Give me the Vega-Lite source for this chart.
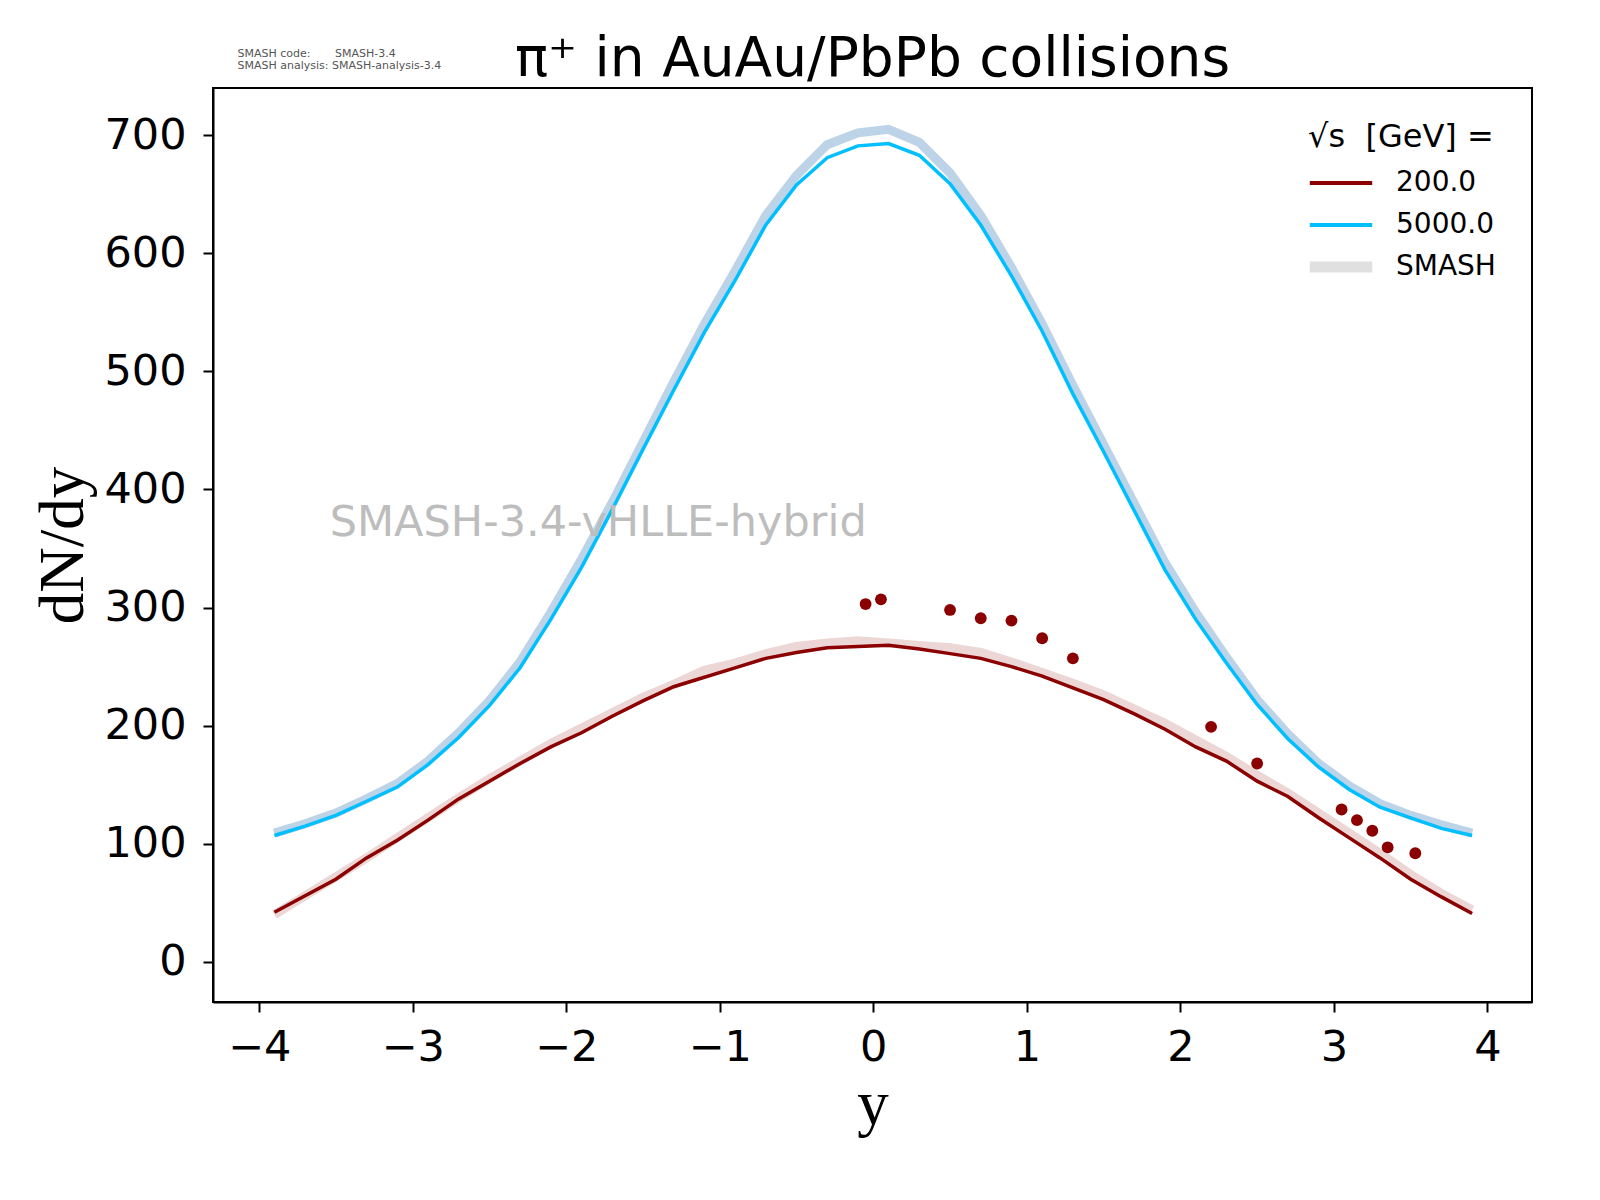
{
  "$schema": "https://vega.github.io/schema/vega-lite/v6.json",
  "autosize": "none",
  "width": 1319,
  "height": 914,
  "padding": {"left": 213, "top": 88, "right": 68, "bottom": 198},
  "background": "white",
  "title": {"text": "π⁺ in AuAu/PbPb collisions", "fontSize": 55, "font": "DejaVu Sans", "fontWeight": "normal", "color": "black", "anchor": "middle", "offset": -40},
  "config": {
    "view": {"stroke": "black", "strokeWidth": 2},
    "axis": {"grid": false, "domainColor": "black", "domainWidth": 2, "tickColor": "black", "tickWidth": 2, "tickSize": 10, "labelFont": "DejaVu Sans", "labelFontSize": 43, "labelColor": "black", "labelPadding": 14, "titleFont": "Liberation Serif", "titleFontWeight": "normal", "titleFontSize": 63, "titleColor": "black"}
  },
  "datasets": {
    "lines": [
      {"y": -3.9, "dndy": 42, "series": "200.0"}, {"y": -3.7, "dndy": 56, "series": "200.0"}, {"y": -3.5, "dndy": 70, "series": "200.0"}, {"y": -3.3, "dndy": 88, "series": "200.0"}, {"y": -3.1, "dndy": 103, "series": "200.0"}, {"y": -2.9, "dndy": 120, "series": "200.0"}, {"y": -2.7, "dndy": 138, "series": "200.0"}, {"y": -2.5, "dndy": 153, "series": "200.0"}, {"y": -2.3, "dndy": 168, "series": "200.0"}, {"y": -2.1, "dndy": 182, "series": "200.0"}, {"y": -1.9, "dndy": 194, "series": "200.0"}, {"y": -1.7, "dndy": 208, "series": "200.0"}, {"y": -1.5, "dndy": 221, "series": "200.0"}, {"y": -1.3, "dndy": 233, "series": "200.0"}, {"y": -1.1, "dndy": 241, "series": "200.0"}, {"y": -0.9, "dndy": 249, "series": "200.0"}, {"y": -0.7, "dndy": 257, "series": "200.0"}, {"y": -0.5, "dndy": 262, "series": "200.0"}, {"y": -0.3, "dndy": 266, "series": "200.0"}, {"y": -0.1, "dndy": 267, "series": "200.0"}, {"y": 0.1, "dndy": 268, "series": "200.0"}, {"y": 0.3, "dndy": 265, "series": "200.0"}, {"y": 0.5, "dndy": 261, "series": "200.0"}, {"y": 0.7, "dndy": 257, "series": "200.0"}, {"y": 0.9, "dndy": 250, "series": "200.0"}, {"y": 1.1, "dndy": 242, "series": "200.0"}, {"y": 1.3, "dndy": 232, "series": "200.0"}, {"y": 1.5, "dndy": 222, "series": "200.0"}, {"y": 1.7, "dndy": 210, "series": "200.0"}, {"y": 1.9, "dndy": 197, "series": "200.0"}, {"y": 2.1, "dndy": 182, "series": "200.0"}, {"y": 2.3, "dndy": 170, "series": "200.0"}, {"y": 2.5, "dndy": 153, "series": "200.0"}, {"y": 2.7, "dndy": 140, "series": "200.0"}, {"y": 2.9, "dndy": 122, "series": "200.0"}, {"y": 3.1, "dndy": 105, "series": "200.0"}, {"y": 3.3, "dndy": 88, "series": "200.0"}, {"y": 3.5, "dndy": 70, "series": "200.0"}, {"y": 3.7, "dndy": 55, "series": "200.0"}, {"y": 3.9, "dndy": 41, "series": "200.0"},
      {"y": -3.9, "dndy": 107, "series": "5000.0"}, {"y": -3.7, "dndy": 115, "series": "5000.0"}, {"y": -3.5, "dndy": 124, "series": "5000.0"}, {"y": -3.3, "dndy": 136, "series": "5000.0"}, {"y": -3.1, "dndy": 148, "series": "5000.0"}, {"y": -2.9, "dndy": 167, "series": "5000.0"}, {"y": -2.7, "dndy": 190, "series": "5000.0"}, {"y": -2.5, "dndy": 217, "series": "5000.0"}, {"y": -2.3, "dndy": 249, "series": "5000.0"}, {"y": -2.1, "dndy": 290, "series": "5000.0"}, {"y": -1.9, "dndy": 334, "series": "5000.0"}, {"y": -1.7, "dndy": 383, "series": "5000.0"}, {"y": -1.5, "dndy": 434, "series": "5000.0"}, {"y": -1.3, "dndy": 484, "series": "5000.0"}, {"y": -1.1, "dndy": 533, "series": "5000.0"}, {"y": -0.9, "dndy": 577, "series": "5000.0"}, {"y": -0.7, "dndy": 624, "series": "5000.0"}, {"y": -0.5, "dndy": 658, "series": "5000.0"}, {"y": -0.3, "dndy": 681, "series": "5000.0"}, {"y": -0.1, "dndy": 691, "series": "5000.0"}, {"y": 0.1, "dndy": 693, "series": "5000.0"}, {"y": 0.3, "dndy": 683, "series": "5000.0"}, {"y": 0.5, "dndy": 659, "series": "5000.0"}, {"y": 0.7, "dndy": 624, "series": "5000.0"}, {"y": 0.9, "dndy": 581, "series": "5000.0"}, {"y": 1.1, "dndy": 534, "series": "5000.0"}, {"y": 1.3, "dndy": 481, "series": "5000.0"}, {"y": 1.5, "dndy": 432, "series": "5000.0"}, {"y": 1.7, "dndy": 382, "series": "5000.0"}, {"y": 1.9, "dndy": 332, "series": "5000.0"}, {"y": 2.1, "dndy": 290, "series": "5000.0"}, {"y": 2.3, "dndy": 253, "series": "5000.0"}, {"y": 2.5, "dndy": 218, "series": "5000.0"}, {"y": 2.7, "dndy": 189, "series": "5000.0"}, {"y": 2.9, "dndy": 165, "series": "5000.0"}, {"y": 3.1, "dndy": 146, "series": "5000.0"}, {"y": 3.3, "dndy": 131, "series": "5000.0"}, {"y": 3.5, "dndy": 122, "series": "5000.0"}, {"y": 3.7, "dndy": 113, "series": "5000.0"}, {"y": 3.9, "dndy": 107, "series": "5000.0"}
    ],
    "bands": [
      {"y": -3.9, "dndy": 40, "band": "b200"}, {"y": -3.7, "dndy": 56, "band": "b200"}, {"y": -3.5, "dndy": 72, "band": "b200"}, {"y": -3.3, "dndy": 88, "band": "b200"}, {"y": -3.1, "dndy": 105, "band": "b200"}, {"y": -2.9, "dndy": 122, "band": "b200"}, {"y": -2.7, "dndy": 139, "band": "b200"}, {"y": -2.5, "dndy": 155, "band": "b200"}, {"y": -2.3, "dndy": 170, "band": "b200"}, {"y": -2.1, "dndy": 185, "band": "b200"}, {"y": -1.9, "dndy": 198, "band": "b200"}, {"y": -1.7, "dndy": 211, "band": "b200"}, {"y": -1.5, "dndy": 224, "band": "b200"}, {"y": -1.3, "dndy": 235, "band": "b200"}, {"y": -1.1, "dndy": 247, "band": "b200"}, {"y": -0.9, "dndy": 253, "band": "b200"}, {"y": -0.7, "dndy": 261, "band": "b200"}, {"y": -0.5, "dndy": 267, "band": "b200"}, {"y": -0.3, "dndy": 270, "band": "b200"}, {"y": -0.1, "dndy": 272, "band": "b200"}, {"y": 0.1, "dndy": 270, "band": "b200"}, {"y": 0.3, "dndy": 268, "band": "b200"}, {"y": 0.5, "dndy": 266, "band": "b200"}, {"y": 0.7, "dndy": 262, "band": "b200"}, {"y": 0.9, "dndy": 254, "band": "b200"}, {"y": 1.1, "dndy": 245, "band": "b200"}, {"y": 1.3, "dndy": 236, "band": "b200"}, {"y": 1.5, "dndy": 226, "band": "b200"}, {"y": 1.7, "dndy": 214, "band": "b200"}, {"y": 1.9, "dndy": 202, "band": "b200"}, {"y": 2.1, "dndy": 188, "band": "b200"}, {"y": 2.3, "dndy": 174, "band": "b200"}, {"y": 2.5, "dndy": 158, "band": "b200"}, {"y": 2.7, "dndy": 143, "band": "b200"}, {"y": 2.9, "dndy": 126, "band": "b200"}, {"y": 3.1, "dndy": 109, "band": "b200"}, {"y": 3.3, "dndy": 92, "band": "b200"}, {"y": 3.5, "dndy": 74, "band": "b200"}, {"y": 3.7, "dndy": 58, "band": "b200"}, {"y": 3.9, "dndy": 44, "band": "b200"},
      {"y": -3.9, "dndy": 109, "band": "b5000"}, {"y": -3.7, "dndy": 117, "band": "b5000"}, {"y": -3.5, "dndy": 126, "band": "b5000"}, {"y": -3.3, "dndy": 138, "band": "b5000"}, {"y": -3.1, "dndy": 151, "band": "b5000"}, {"y": -2.9, "dndy": 170, "band": "b5000"}, {"y": -2.7, "dndy": 194, "band": "b5000"}, {"y": -2.5, "dndy": 221, "band": "b5000"}, {"y": -2.3, "dndy": 254, "band": "b5000"}, {"y": -2.1, "dndy": 296, "band": "b5000"}, {"y": -1.9, "dndy": 341, "band": "b5000"}, {"y": -1.7, "dndy": 389, "band": "b5000"}, {"y": -1.5, "dndy": 440, "band": "b5000"}, {"y": -1.3, "dndy": 491, "band": "b5000"}, {"y": -1.1, "dndy": 540, "band": "b5000"}, {"y": -0.9, "dndy": 585, "band": "b5000"}, {"y": -0.7, "dndy": 632, "band": "b5000"}, {"y": -0.5, "dndy": 666, "band": "b5000"}, {"y": -0.3, "dndy": 692, "band": "b5000"}, {"y": -0.1, "dndy": 702, "band": "b5000"}, {"y": 0.1, "dndy": 705, "band": "b5000"}, {"y": 0.3, "dndy": 694, "band": "b5000"}, {"y": 0.5, "dndy": 668, "band": "b5000"}, {"y": 0.7, "dndy": 632, "band": "b5000"}, {"y": 0.9, "dndy": 588, "band": "b5000"}, {"y": 1.1, "dndy": 540, "band": "b5000"}, {"y": 1.3, "dndy": 488, "band": "b5000"}, {"y": 1.5, "dndy": 438, "band": "b5000"}, {"y": 1.7, "dndy": 388, "band": "b5000"}, {"y": 1.9, "dndy": 338, "band": "b5000"}, {"y": 2.1, "dndy": 296, "band": "b5000"}, {"y": 2.3, "dndy": 258, "band": "b5000"}, {"y": 2.5, "dndy": 222, "band": "b5000"}, {"y": 2.7, "dndy": 193, "band": "b5000"}, {"y": 2.9, "dndy": 168, "band": "b5000"}, {"y": 3.1, "dndy": 149, "band": "b5000"}, {"y": 3.3, "dndy": 134, "band": "b5000"}, {"y": 3.5, "dndy": 124, "band": "b5000"}, {"y": 3.7, "dndy": 116, "band": "b5000"}, {"y": 3.9, "dndy": 109, "band": "b5000"}
    ],
    "points": [
      {"y": -0.05, "dndy": 303}, {"y": 0.05, "dndy": 307}, {"y": 0.5, "dndy": 298}, {"y": 0.7, "dndy": 291}, {"y": 0.9, "dndy": 289}, {"y": 1.1, "dndy": 274}, {"y": 1.3, "dndy": 257}, {"y": 2.2, "dndy": 199}, {"y": 2.5, "dndy": 168}, {"y": 3.05, "dndy": 129}, {"y": 3.15, "dndy": 120}, {"y": 3.25, "dndy": 111}, {"y": 3.35, "dndy": 97}, {"y": 3.53, "dndy": 92}
    ],
    "notes": [
      {"y": -3.54, "dndy": 372, "text": "SMASH-3.4-vHLLE-hybrid"}
    ],
    "header": [
      {"y": -4.14, "dndy": 769, "text": "SMASH code:\u00a0\u00a0\u00a0\u00a0\u00a0\u00a0\u00a0SMASH-3.4"},
      {"y": -4.14, "dndy": 759, "text": "SMASH analysis: SMASH-analysis-3.4"}
    ]
  },
  "encoding": {
    "x": {"field": "y", "type": "quantitative", "scale": {"domain": [-4.3, 4.29], "nice": false, "zero": false}, "axis": {"values": [-4, -3, -2, -1, 0, 1, 2, 3, 4], "title": "y", "titlePadding": 4}},
    "y": {"field": "dndy", "type": "quantitative", "scale": {"domain": [-34, 740], "nice": false, "zero": false}, "axis": {"values": [0, 100, 200, 300, 400, 500, 600, 700], "title": "dN/dy", "titlePadding": 8, "labelPadding": 17}}
  },
  "layer": [
    {
      "data": {"name": "bands"},
      "mark": {"type": "line", "strokeWidth": 9, "strokeCap": "butt", "clip": true},
      "encoding": {
        "stroke": {"field": "band", "type": "nominal", "scale": {"domain": ["b200", "b5000"], "range": ["#ecd6d6", "#bcd3e8"]}, "legend": null},
        "detail": {"field": "band"}
      }
    },
    {
      "data": {"name": "lines"},
      "mark": {"type": "line", "clip": true, "strokeWidth": 3.5},
      "encoding": {
        "color": {"field": "series", "type": "nominal", "scale": {"domain": ["200.0", "5000.0", "SMASH"], "range": ["#8b0000", "#00bfff", "#e0e0e0"]},
          "legend": {"title": "√s\u00a0\u00a0[GeV] =", "titleLimit": 600, "orient": "none", "legendX": 1095, "legendY": 34, "symbolType": "stroke", "symbolSize": 3900, "symbolStrokeWidth": {"expr": "datum.value === 'SMASH' ? 11 : 4"}, "symbolOffset": 19, "gridAlign": "all", "titleFont": "DejaVu Sans", "titleFontSize": 32, "titleFontWeight": "normal", "titleColor": "black", "labelFont": "DejaVu Sans", "labelFontSize": 28, "labelColor": "black", "labelOffset": 41, "rowPadding": -2, "titlePadding": 15}}
      }
    },
    {
      "data": {"name": "points"},
      "mark": {"type": "point", "filled": true, "shape": "circle", "size": 140, "color": "#8b0000", "opacity": 1}
    },
    {
      "data": {"name": "notes"},
      "mark": {"type": "text", "align": "left", "baseline": "middle", "font": "DejaVu Sans", "fontSize": 43, "color": "#bdbdbd"},
      "encoding": {"text": {"field": "text"}}
    },
    {
      "data": {"name": "header"},
      "mark": {"type": "text", "align": "left", "baseline": "middle", "font": "DejaVu Sans", "fontSize": 11, "color": "#555555", "clip": false},
      "encoding": {"text": {"field": "text"}}
    }
  ]
}
